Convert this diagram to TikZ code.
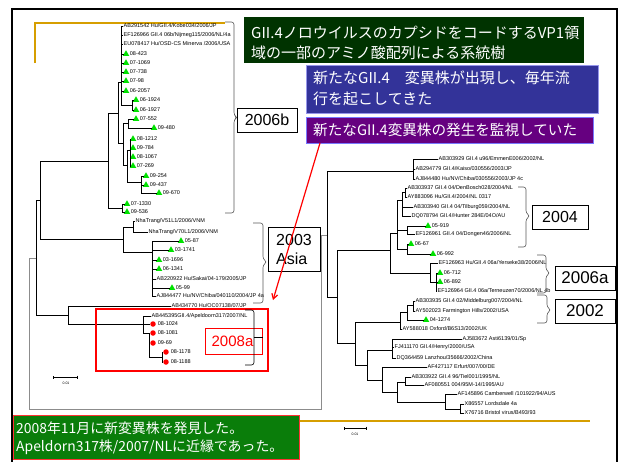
\documentclass[tikz,border=0pt]{standalone}
\usepackage{fontspec}
\setmainfont{Liberation Sans}
\newfontfamily\jpf{Noto Sans CJK JP}
\usetikzlibrary{shapes.geometric,arrows.meta}
\definecolor{ttlgreen}{RGB}{0,51,0}
\definecolor{bluebox}{RGB}{51,51,153}
\definecolor{blueedge}{RGB}{150,150,235}
\definecolor{purplebox}{RGB}{102,0,128}
\definecolor{purpleedge}{RGB}{120,120,255}
\definecolor{botgreen}{RGB}{10,125,10}
\definecolor{goldline}{RGB}{214,158,0}
\definecolor{trigreen}{RGB}{0,225,0}
\tikzset{
 lbl/.style={font=\fontsize{5.5}{6}\selectfont, inner sep=0.5pt, anchor=west},
 tri/.style={regular polygon, regular polygon sides=3, fill=trigreen, minimum size=7.5pt, inner sep=0pt},
 rdot/.style={circle, fill=red, minimum size=5.5pt, inner sep=0pt},
 brl/.style={line width=0.7pt, black},
 conn/.style={line width=0.8pt, black!45},
 bracel/.style={line width=0.6pt, black!65, rounded corners=2.5pt},
 yearbox/.style={draw=black, line width=0.8pt, fill=white, font=\fontsize{16}{19}\selectfont, inner sep=0pt},
 jpbox/.style={inner sep=0pt, anchor=north west},
 jptext/.style={text=white, align=left, anchor=west, inner sep=0pt},
 sbar/.style={line width=0.6pt, {Bar[width=3pt]}-{Bar[width=3pt]}},
 stext/.style={font=\fontsize{3.5}{4}\selectfont, inner sep=0pt},
}
\newcommand\tleaf[4]{\node[lbl] (#1) at (#2,#3) {#4};}
\newcommand\gleaf[4]{\node[tri] (#1) at (#2,#3) {};\node[lbl] (#1t) at ([xshift=0.8pt]#1.east) {#4};}
\newcommand\rleaf[4]{\node[rdot] (#1) at (#2,#3) {};\node[lbl] (#1t) at ([xshift=1.2pt]#1.east) {#4};}
\newcommand\tbl[2]{\draw[brl] (#1) |- (#2.west);}
\newcommand\tbi[2]{\draw[brl] (#1) |- (#2);}
\begin{document}
\begin{tikzpicture}[x=1pt,y=-1pt]
\useasboundingbox (0,0) rectangle (620,461);
\fill[white] (0,0) rectangle (620,461);
% gold decoration lines
\draw[goldline, line width=1.2pt] (35,63) -- (35,23) -- (225,23);
\draw[goldline, line width=1.2pt] (35,421) -- (590,421);

% ---------------- left tree ----------------
\coordinate (Lr) at (36,258);
\coordinate (Lv) at (40,200);
\coordinate (Lt0) at (108,161);
\coordinate (Lt1) at (118,113);
\coordinate (Lt2) at (121,82);
\coordinate (Ln24) at (132,105);
\coordinate (Lt3) at (123,143);
\coordinate (Lu1) at (128,123);
\coordinate (Lu2) at (127,165);
\coordinate (Lu3) at (130,150);
\coordinate (Lu4) at (141,182);
\coordinate (Lt7) at (122,208);
\coordinate (Lw) at (123,239);
\coordinate (Lnt) at (133,227);
\coordinate (Lx) at (152,252);
\coordinate (Ly) at (68,315);
\coordinate (Lz1) at (143,324);
\coordinate (Lz2) at (149,333);
\coordinate (Lz3) at (162,357);

\tleaf{l1}{123}{26}{AB291542 Hu/GII.4/Kobe034/2006/JP}
\tleaf{l2}{123}{35}{EF126966 GII.4 06b/Nijmeg115/2006/NL/4a}
\tleaf{l3}{123}{44}{EU078417 Hu/OSD-CS Minerva /2006/USA}
\gleaf{l4}{126}{54}{08-423}
\gleaf{l5}{126}{63}{07-1069}
\gleaf{l6}{126}{72}{07-738}
\gleaf{l7}{126}{81}{07-98}
\gleaf{l8}{126}{91}{06-2057}
\gleaf{l9}{136}{100}{06-1924}
\gleaf{l10}{136}{110}{06-1927}
\gleaf{l11}{136}{119}{07-552}
\gleaf{l12}{154}{128}{09-480}
\gleaf{l13}{133}{139}{08-1212}
\gleaf{l14}{133}{148}{09-784}
\gleaf{l15}{133}{157}{08-1067}
\gleaf{l16}{133}{166}{07-269}
\gleaf{l17}{146}{176}{09-254}
\gleaf{l18}{146}{185}{09-437}
\gleaf{l19}{159}{193}{09-670}
\gleaf{l20}{127}{204}{07-1330}
\gleaf{l21}{127}{212}{09-536}
\tleaf{l22}{135}{221}{NhaTrang/V51L1/2006/VNM}
\tleaf{l23}{148}{232}{NhaTrang/V70L1/2006/VNM}
\gleaf{l24}{181}{241}{05-87}
\gleaf{l25}{171}{250}{03-1741}
\gleaf{l26}{159}{260}{03-1696}
\gleaf{l27}{159}{269}{06-1341}
\tleaf{l28}{156}{279}{AB220922 Hu/Sakai/04-179/2005/JP}
\gleaf{l29}{172}{288}{05-99}
\tleaf{l30}{156}{296}{AJ844477 Hu/NV/Chiba/040110/2004/JP 4a}
\tleaf{l31}{171}{306}{AB434770 Hu/OC07138/07/JP}
\tleaf{l32}{151}{316}{AB445395GII.4/Apeldoorn317/2007/NL}
\rleaf{l33}{153}{324}{08-1024}
\rleaf{l34}{153}{333}{08-1081}
\rleaf{l35}{153}{343}{09-69}
\rleaf{l36}{166}{352}{08-1178}
\rleaf{l37}{166}{362}{08-1188}

\tbi{Lr}{Lv} \tbi{Lr}{Ly}
\tbi{Lv}{Lt0} \tbi{Lv}{Lw}
\tbi{Lt0}{Lt1} \tbi{Lt0}{Lt7}
\tbi{Lt1}{Lt2} \tbi{Lt1}{Lt3}
\foreach \n in {l1,l2,l3,l4,l5,l6,l7,l8} {\tbl{Lt2}{\n}}
\tbi{Lt2}{Ln24}
\tbl{Ln24}{l9} \tbl{Ln24}{l10}
\tbi{Lt3}{Lu1} \tbi{Lt3}{Lu2}
\tbl{Lu1}{l11} \tbl{Lu1}{l12}
\tbi{Lu2}{Lu3} \tbi{Lu2}{Lu4}
\foreach \n in {l13,l14,l15,l16} {\tbl{Lu3}{\n}}
\foreach \n in {l17,l18,l19} {\tbl{Lu4}{\n}}
\tbl{Lt7}{l20} \tbl{Lt7}{l21}
\tbi{Lw}{Lnt} \tbi{Lw}{Lx}
\tbl{Lnt}{l22} \tbl{Lnt}{l23}
\foreach \n in {l24,l25,l26,l27,l28,l29,l30} {\tbl{Lx}{\n}}
\tbl{Ly}{l31} \tbi{Ly}{Lz1}
\tbl{Lz1}{l32} \tbl{Lz1}{l33} \tbi{Lz1}{Lz2}
\tbl{Lz2}{l34} \tbl{Lz2}{l35} \tbi{Lz2}{Lz3}
\tbl{Lz3}{l36} \tbl{Lz3}{l37}

% ---------------- right tree ----------------
\coordinate (Ra) at (327,235);
\coordinate (Rem) at (413,171);
\coordinate (Rb) at (337,297);
\coordinate (Rc) at (390,250);
\coordinate (Rd) at (397,233);
\coordinate (Re) at (402,200);
\coordinate (Rg) at (405,192);
\coordinate (Rh) at (407,230);
\coordinate (Rf) at (407,249);
\coordinate (Rs) at (430,273);
\coordinate (Rs2) at (436,282);
\coordinate (Rhn) at (355,343);
\coordinate (Ri) at (400,322);
\coordinate (Rj) at (407,312);
\coordinate (Rk) at (413,305);
\coordinate (Rl) at (367,365);
\coordinate (Rm) at (392,350);
\coordinate (Rn) at (382,380);
\coordinate (Ro) at (397,392);
\coordinate (Rp) at (405,382);
\coordinate (Rq) at (445,402);
\coordinate (Rr) at (460,409);

\tleaf{r1}{438}{159}{AB303929 GII.4 u96/EmmenE006/2002/NL}
\tleaf{r2}{415}{169}{AB294779 GII.4/Kaiso/030556/2003/JP}
\tleaf{r3}{415}{179}{AJ844480 Hu/NV/Chiba/030556/2003/JP 4c}
\tleaf{r4}{407}{188}{AB303937 GII.4 04/DenBosch028/2004/NL}
\tleaf{r5}{407}{197}{AY883096 Hu/GII.4/2004/NL 0317}
\tleaf{r6}{413}{207}{AB303940 GII.4 04/Tilburg059/2004/NL}
\tleaf{r7}{411}{216}{DQ078794 GII.4/Hunter 284E/04O/AU}
\gleaf{r8}{428}{226}{05-919}
\tleaf{r9}{415}{234}{EF126961 GII.4 04/Dongen46/2006/NL}
\gleaf{r10}{411}{244}{06-67}
\gleaf{r11}{433}{254}{06-992}
\tleaf{r12}{438}{263}{EF126963 Hu/GII.4 06a/Yerseke38/2006/NL}
\gleaf{r13}{440}{273}{06-712}
\gleaf{r14}{440}{282}{06-892}
\tleaf{r15}{437}{291}{EF126964 GII.4 06a/Terneuzen70/2006/NL 4b}
\tleaf{r16}{415}{301}{AB303935 GII.4 02/Middelburg007/2004/NL}
\tleaf{r17}{415}{311}{AY502023 Farmington Hills/2002/USA}
\gleaf{r18}{426}{320}{04-1274}
\tleaf{r19}{402}{329}{AY588018 Oxford/B6S13/2002/UK}
\tleaf{r20}{462}{339}{AJ583672 Asti6139/01/Sp}
\tleaf{r21}{394}{347}{FJ411170 GII.4/Henry/2000/USA}
\tleaf{r22}{396}{358}{DQ364459 Lanzhou/35666/2002/China}
\tleaf{r23}{427}{367}{AF427117 Erfurt/007/00/DE}
\tleaf{r24}{411}{377}{AB303922 GII.4 96/Tiel001/1995/NL}
\tleaf{r25}{424}{385}{AF080551 004/95M-14/1995/AU}
\tleaf{r26}{457}{394}{AF145896 Camberwell /101922/94/AUS}
\tleaf{r27}{464}{404}{X86557 Lordsdale 4a}
\tleaf{r28}{464}{413}{X76716 Bristol virus/B493/93}

\tbi{Ra}{Rem} \tbi{Ra}{Rb}
\tbl{Rem}{r1} \tbl{Rem}{r2} \tbl{Rem}{r3}
\tbi{Rb}{Rc} \tbi{Rb}{Rhn}
\tbi{Rc}{Rd} \tbi{Rc}{Rs}
\tbi{Rd}{Re} \tbi{Rd}{Rh} \tbi{Rd}{Rf}
\tbi{Re}{Rg} \tbl{Re}{r6} \tbl{Re}{r7}
\tbl{Rg}{r4} \tbl{Rg}{r5}
\tbl{Rh}{r8} \tbl{Rh}{r9}
\tbl{Rf}{r10} \tbl{Rf}{r11}
\tbl{Rs}{r12} \tbi{Rs}{Rs2}
\tbl{Rs2}{r13} \tbl{Rs2}{r14} \tbl{Rs2}{r15}
\tbi{Rhn}{Ri} \tbi{Rhn}{Rl}
\tbi{Ri}{Rj} \tbl{Ri}{r19}
\tbi{Rj}{Rk} \tbl{Rj}{r18}
\tbl{Rk}{r16} \tbl{Rk}{r17}
\tbi{Rl}{Rm} \tbi{Rl}{Rn}
\tbl{Rm}{r20} \tbl{Rm}{r21} \tbl{Rm}{r22}
\tbl{Rn}{r23} \tbi{Rn}{Ro}
\tbi{Ro}{Rp} \tbi{Ro}{Rq}
\tbl{Rp}{r24} \tbl{Rp}{r25}
\tbl{Rq}{r26} \tbi{Rq}{Rr}
\tbl{Rr}{r27} \tbl{Rr}{r28}

% connection between the two halves
\coordinate (g1) at (29,258);
\coordinate (g2) at (29,409);
\coordinate (g3) at (321,409);
\coordinate (g4) at (321,235);
\draw[conn] (Lr) -- (g1) -- (g2) -- (g3) -- (g4) -- (Ra);

% scale bars
\coordinate (sl1) at (53,377); \coordinate (sl2) at (78,377);
\draw[sbar] (sl1) -- (sl2);
\node[stext] (slt) at (66,383) {0.01};
\coordinate (sr1) at (344,428); \coordinate (sr2) at (367,428);
\draw[sbar] (sr1) -- (sr2);
\node[stext] (srt) at (355,434) {0.01};

% red highlight box of 2008a
\draw[red, line width=1.6pt] (96,309) rectangle (268,371);
\node[draw=red, line width=0.8pt, text=red, minimum width=57pt, minimum height=26pt, inner sep=0pt, font=\fontsize{15}{18}\selectfont] (y2008a) at (233.5,341) {\hspace{-2pt}2008a};

% braces
\draw[bracel] (225,22) -- (234,22) -- (234,115) -- (237,117.5) -- (234,120) -- (234,213) -- (225,213);
\draw[bracel] (253,223) -- (263,223) -- (263,259) -- (267,262) -- (263,265) -- (263,303) -- (253,303);
\draw[bracel, black] (245,310) -- (254,310) -- (254,365) -- (245,365);
\draw[line width=0.6pt] (254,337) -- (263,337);
\draw[bracel] (518,187) -- (526,187) -- (526,213) -- (530,216) -- (526,219) -- (526,247) -- (518,247);
\draw[bracel] (537,255) -- (546,255) -- (546,270) -- (550,273) -- (546,276) -- (546,293) -- (537,293);
\draw[bracel] (537,295) -- (547,295) -- (547,307) -- (551,310) -- (547,313) -- (547,323) -- (537,323);

% year boxes
\node[yearbox, minimum width=60pt, minimum height=24pt] (y2006b) at (267,120) {2006b};
\node[yearbox, minimum width=52pt, minimum height=44pt, align=left] (y2003) at (294,249) {2003\\Asia};
\node[yearbox, minimum width=56pt, minimum height=24pt] (y2004) at (560,217) {2004};
\node[yearbox, minimum width=60pt, minimum height=24pt, font=\fontsize{17}{19}\selectfont] (y2006a) at (585,278) {2006a};
\node[yearbox, minimum width=60pt, minimum height=24pt, font=\fontsize{17}{19}\selectfont] (y2002) at (585,311) {2002};

% title boxes
\node[jpbox, fill=ttlgreen, minimum width=340pt, minimum height=46pt] (ttl) at (244,17) {};
\node[jptext, font=\jpf\fontsize{15}{20}\selectfont] (ttltxt) at (251,42.5) {GII.4ノロウイルスのカプシドをコードするVP1領\\域の一部のアミノ酸配列による系統樹};
\node[jpbox, fill=bluebox, draw=blueedge, line width=0.8pt, minimum width=292pt, minimum height=48pt] (bbox) at (306,65) {};
\node[jptext, font=\jpf\fontsize{15}{21}\selectfont] (bboxtxt) at (313,88.5) {新たなGII.4　変異株が出現し、毎年流\\行を起こしてきた};
\node[jpbox, fill=purplebox, draw=purpleedge, line width=0.8pt, minimum width=287pt, minimum height=26pt] (pbox) at (306,117) {};
\node[jptext, font=\jpf\fontsize{14.6}{18}\selectfont] (pboxtxt) at (313,130) {新たなGII.4変異株の発生を監視していた};

% red arrow
\coordinate (arS) at (320,143);
\coordinate (arE) at (273,300);
\draw[red, line width=1.2pt, -{Straight Barb[length=5pt,width=6pt]}] (arS) -- (arE);

% bottom box
\node[jpbox, fill=botgreen, draw=red!80, line width=1pt, minimum width=286pt, minimum height=44pt] (btm) at (13,415) {};
\node[jptext, font=\jpf\fontsize{13.9}{18}\selectfont] (btmtxt) at (16,438) {2008年11月に新変異株を発見した。\\Apeldorn317株/2007/NLに近縁であった。};

% slide frame
\draw[line width=2.2pt] (12,9) rectangle (617,480);
\end{tikzpicture}
\end{document}
